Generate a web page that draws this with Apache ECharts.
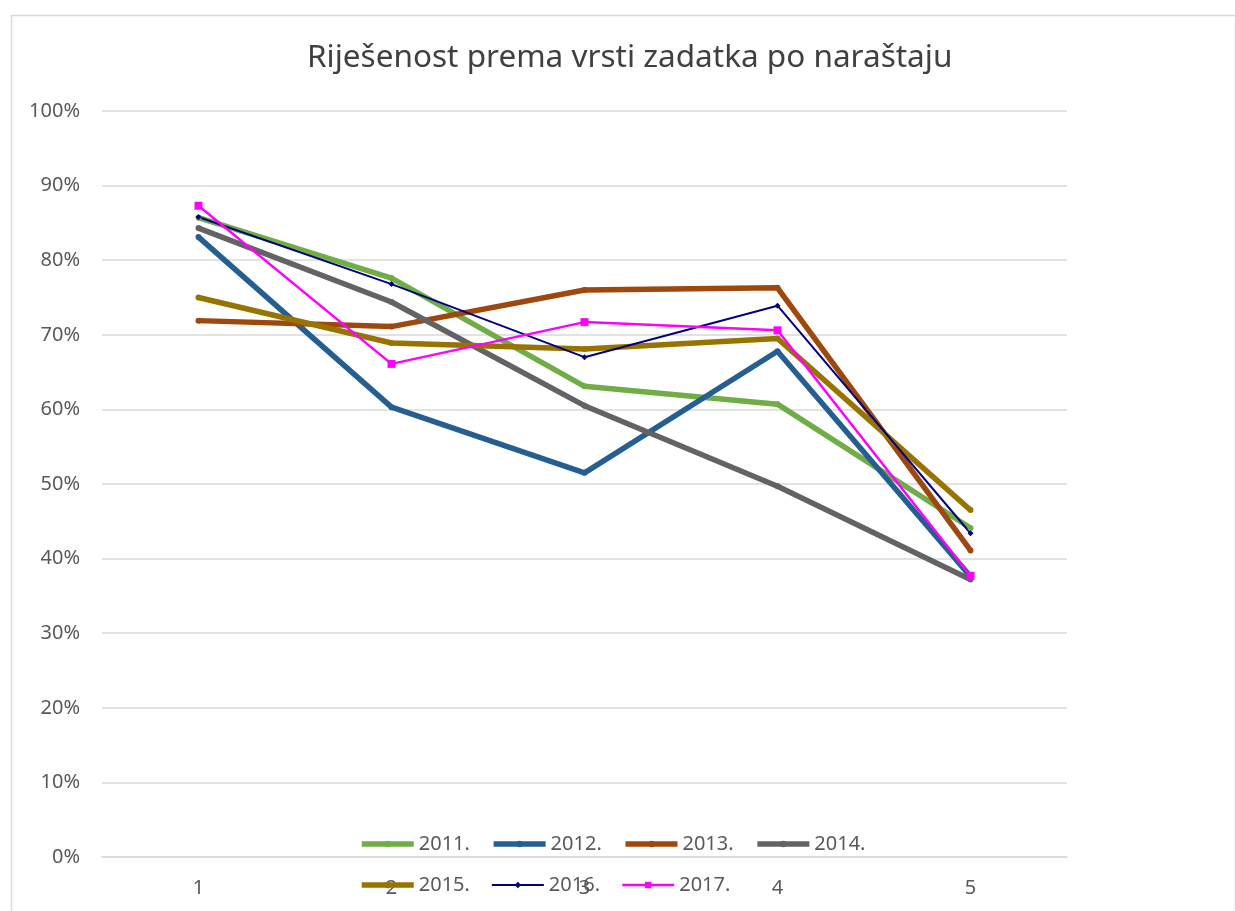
<!DOCTYPE html>
<html>
<head>
<meta charset="utf-8">
<script src="https://cdn.jsdelivr.net/npm/echarts@6/dist/echarts.min.js"></script>
<style>
html, body { margin: 0; padding: 0; background: #fff; }
#main { width: 1235px; height: 911px; }
</style>
</head>
<body>
<div id="main"></div>
<script>
var categories = ['1', '2', '3', '4', '5'];
var years = ['2011.', '2012.', '2013.', '2014.', '2015.', '2016.', '2017.'];
var v2011 = [85.7, 77.6, 63.1, 60.7, 44.1];
var v2012 = [83.1, 60.3, 51.5, 67.8, 37.6];
var v2013 = [71.9, 71.1, 76.0, 76.3, 41.1];
var v2014 = [84.3, 74.4, 60.5, 49.7, 37.2];
var v2015 = [75.0, 68.9, 68.1, 69.5, 46.5];
var v2016 = [85.8, 76.8, 67.0, 73.9, 43.4];
var v2017 = [87.3, 66.1, 71.7, 70.6, 37.7];
var yTicks = [0, 10, 20, 30, 40, 50, 60, 70, 80, 90, 100];

var colors = ['#70AD47', '#255E91', '#9E480E', '#636363', '#997300', '#000080', '#FF00FF'];
var allData = [v2011, v2012, v2013, v2014, v2015, v2016, v2017];

var myChart = echarts.init(document.getElementById('main'));

var seriesData = [];
var legendItems = [];
for (var i = 0; i < years.length; i++) {
	var thin = i >= 5;
	var w = thin ? (i == 6 ? 2.5 : 2) : 5.5;
	seriesData.push({
		name: years[i],
		type: 'line',
		data: allData[i],
		symbol: i == 6 ? 'rect' : (i == 5 ? 'diamond' : 'circle'),
		symbolSize: i == 6 ? 8 : 6,
		lineStyle: { color: colors[i], width: w },
		itemStyle: { color: colors[i] },
		emphasis: { disabled: true },
		animation: false
	});
	legendItems.push({
		name: years[i],
		lineStyle: { width: w, color: colors[i] },
		itemStyle: { color: colors[i] }
	});
}

var legendText = {
	color: '#595959',
	fontSize: 20,
	fontFamily: 'Noto Sans'
};

var option = {
	title: {
		text: 'Riješenost prema vrsti zadatka po naraštaju',
		left: 302,
		top: 37,
		textStyle: {
			color: '#404040',
			fontSize: 31.5,
			fontWeight: 'normal',
			fontFamily: 'Noto Sans'
		}
	},
	graphic: [{
		type: 'rect',
		left: 9,
		top: 13,
		shape: { width: 1224, height: 920 },
		style: { fill: 'none', stroke: '#d9d9d9', lineWidth: 1.5 },
		silent: true
	}],
	legend: [{
		data: legendItems.slice(0, 4),
		left: 359,
		top: 834,
		padding: 0,
		itemWidth: 52,
		itemHeight: 8,
		itemGap: 21,
		textStyle: legendText
	}, {
		data: legendItems.slice(4),
		left: 359,
		top: 875,
		padding: 0,
		itemWidth: 52,
		itemHeight: 8,
		itemGap: 21,
		textStyle: legendText
	}],
	grid: {
		left: 102,
		right: 168,
		top: 111,
		bottom: 54
	},
	xAxis: {
		type: 'category',
		data: categories,
		boundaryGap: true,
		axisLine: { lineStyle: { color: '#d9d9d9', width: 1.5 } },
		axisTick: { show: false },
		axisLabel: {
			color: '#595959',
			fontSize: 20,
			fontFamily: 'Noto Sans',
			margin: 21
		}
	},
	yAxis: {
		type: 'value',
		min: yTicks[0],
		max: yTicks[yTicks.length - 1],
		interval: 10,
		axisLine: { show: false },
		axisTick: { show: false },
		axisLabel: {
			color: '#595959',
			fontSize: 20,
			fontFamily: 'Noto Sans',
			margin: 22,
			formatter: '{value}%'
		},
		splitLine: { lineStyle: { color: '#d9d9d9', width: 1.5 } }
	},
	series: seriesData
};

myChart.setOption(option);
</script>
</body>
</html>
